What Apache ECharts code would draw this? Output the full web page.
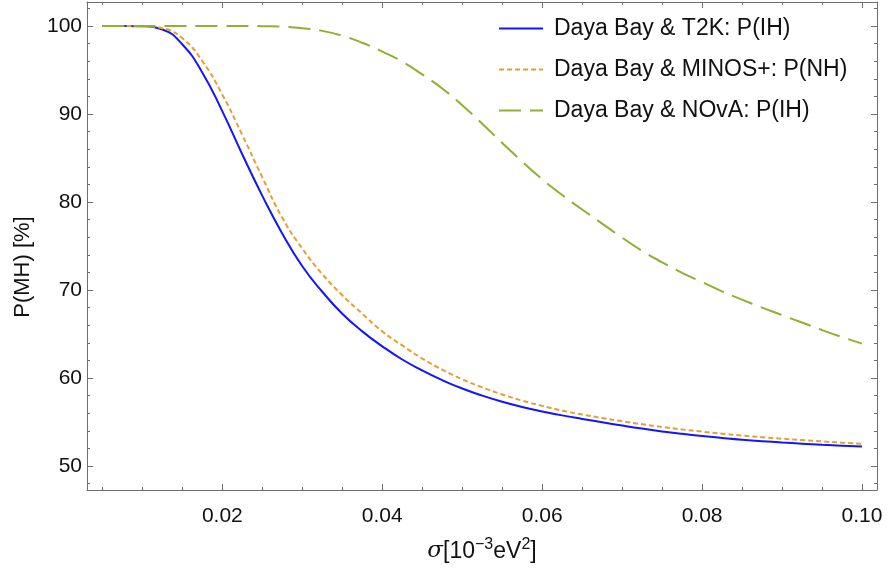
<!DOCTYPE html>
<html>
<head>
<meta charset="utf-8">
<script src="https://cdn.jsdelivr.net/npm/echarts@6/dist/echarts.min.js"></script>
<style>html,body{margin:0;padding:0;background:#fff}#c{width:890px;height:570px}</style>
</head>
<body>
<div id="c"></div>
<script>
var seriesNames = ['Daya Bay & T2K: P(IH)', 'Daya Bay & MINOS+: P(NH)', 'Daya Bay & NOvA: P(IH)'];
var sigma = [0.005,0.0075,0.010,0.0125,0.015,0.0175,0.020,0.0225,0.025,0.0275,0.030,0.0325,0.035,0.0375,0.040,0.0425,0.045,0.0475,0.050,0.0525,0.055,0.0575,0.060,0.0625,0.065,0.0675,0.070,0.0725,0.075,0.0775,0.080,0.0825,0.085,0.0875,0.090,0.0925,0.095,0.0975,0.100];
var t2kIH   = [100,100,99.97,99.6,97.9,94.7,90.3,85.4,80.7,76.4,72.7,69.8,67.3,65.3,63.6,62.1,60.85,59.75,58.8,58.0,57.3,56.7,56.2,55.75,55.35,54.97,54.6,54.25,53.93,53.65,53.4,53.18,52.98,52.82,52.67,52.54,52.42,52.31,52.2];
var minosNH = [100,100,99.98,99.75,98.6,96.0,92.2,87.6,82.8,78.2,74.7,71.8,69.4,67.3,65.3,63.7,62.2,60.95,59.85,58.93,58.13,57.43,56.83,56.3,55.85,55.45,55.08,54.74,54.43,54.15,53.9,53.67,53.46,53.27,53.1,52.94,52.79,52.65,52.52];
var novaIH  = [100,100,100,100,100,100,100,100,99.98,99.92,99.75,99.45,98.9,98.1,97.1,95.95,94.5,92.9,91.0,88.9,86.7,84.6,82.6,80.8,79.15,77.55,75.95,74.45,73.15,71.95,70.9,69.85,68.9,68.0,67.15,66.3,65.45,64.65,63.9];
var xMajorTicks = [0.02, 0.04, 0.06, 0.08, 0.10];
var xMinorTicks = [0.005,0.01,0.015,0.025,0.03,0.035,0.045,0.05,0.055,0.065,0.07,0.075,0.085,0.09,0.095];
var yMajorTicks = [50, 60, 70, 80, 90, 100];
var yMinorTicks = [48,52,54,56,58,62,64,66,68,72,74,76,78,82,84,86,88,92,94,96,98,102];
var X_MIN = 0.00307, X_MAX = 0.10188, Y_MIN = 47.27, Y_MAX = 102.73;

function pairs(xs, ys) { return xs.map(function (x, i) { return [x, ys[i]]; }); }

var frameColor = '#6e6e6e';
var FONT = 'Liberation Sans';
var TXT = '#111111';

function xAx(pos, ticks, len, showLine, labels) {
  var a = {
    type: 'value', min: X_MIN, max: X_MAX, position: pos, gridIndex: 0,
    axisLine: { show: showLine, onZero: false, lineStyle: { color: frameColor, width: 1 } },
    axisTick: { show: true, inside: true, length: len, customValues: ticks, lineStyle: { color: frameColor } },
    axisLabel: { show: false },
    splitLine: { show: false }
  };
  if (labels) {
    a.axisLabel = { show: true, customValues: xMajorTicks, formatter: function (v) { return v.toFixed(2); },
      fontFamily: FONT, fontSize: 21, color: TXT, margin: 16 };
    a.name = '{i|σ}[10{sup|−3}eV{sup|2}]';
    a.nameLocation = 'middle';
    a.nameGap = 47;
    a.nameTextStyle = { fontFamily: FONT, fontSize: 23, color: TXT,
      rich: { i: { fontFamily: 'DejaVu Serif', fontStyle: 'italic', fontSize: 23, color: TXT },
              sup: { fontFamily: FONT, fontSize: 16, color: TXT, padding: [0, 0, 13, 0] } } };
  }
  return a;
}
function yAx(pos, ticks, len, showLine, labels) {
  var a = {
    type: 'value', min: Y_MIN, max: Y_MAX, position: pos, gridIndex: 0,
    axisLine: { show: showLine, onZero: false, lineStyle: { color: frameColor, width: 1 } },
    axisTick: { show: true, inside: true, length: len, customValues: ticks, lineStyle: { color: frameColor } },
    axisLabel: { show: false },
    splitLine: { show: false }
  };
  if (labels) {
    a.axisLabel = { show: true, customValues: yMajorTicks, formatter: function (v) { return String(v); },
      fontFamily: FONT, fontSize: 21, color: TXT, margin: 5 };
    a.name = 'P(MH) [%]';
    a.nameLocation = 'middle';
    a.nameGap = 53;
    a.nameTextStyle = { fontFamily: FONT, fontSize: 22, color: TXT, padding: [0, 42, 0, 0] };
  }
  return a;
}

var chart = echarts.init(document.getElementById('c'), null, { renderer: 'canvas' });
chart.setOption({
  animation: false,
  backgroundColor: '#ffffff',
  grid: { left: 87, top: 2, right: 13, bottom: 80, containLabel: false },
  xAxis: [
    xAx('bottom', xMajorTicks, 6, true, true),
    xAx('bottom', xMinorTicks, 3, false, false),
    xAx('top', xMajorTicks, 6, true, false),
    xAx('top', xMinorTicks, 3, false, false)
  ],
  yAxis: [
    yAx('left', yMajorTicks, 6, true, true),
    yAx('left', yMinorTicks, 3, false, false),
    yAx('right', yMajorTicks, 6, true, false),
    yAx('right', yMinorTicks, 3, false, false)
  ],
  legend: {
    orient: 'vertical', left: 498, top: 17, padding: 0,
    itemWidth: 44, itemHeight: 20, itemGap: 18,
    itemStyle: { color: 'rgba(0,0,0,0)', borderWidth: 0, opacity: 0 },
    textStyle: { fontFamily: FONT, fontSize: 23, color: TXT, padding: [0, 0, 0, 6] },
    data: seriesNames
  },
  series: [
    { name: seriesNames[0], type: 'line', data: pairs(sigma, t2kIH), smooth: true, showSymbol: false, symbol: 'none',
      xAxisIndex: 0, yAxisIndex: 0, z: 3,
      lineStyle: { color: '#1414ff', width: 2 }, itemStyle: { color: '#1414ff' } },
    { name: seriesNames[1], type: 'line', data: pairs(sigma, minosNH), smooth: true, showSymbol: false, symbol: 'none',
      xAxisIndex: 0, yAxisIndex: 0, z: 4,
      lineStyle: { color: '#e5a032', width: 2, type: [5, 3] }, itemStyle: { color: '#e5a032' } },
    { name: seriesNames[2], type: 'line', data: pairs(sigma, novaIH), smooth: true, showSymbol: false, symbol: 'none',
      xAxisIndex: 0, yAxisIndex: 0, z: 5,
      lineStyle: { color: '#8fb032', width: 2, type: [22, 9] }, itemStyle: { color: '#8fb032' } }
  ]
});
</script>
</body>
</html>
